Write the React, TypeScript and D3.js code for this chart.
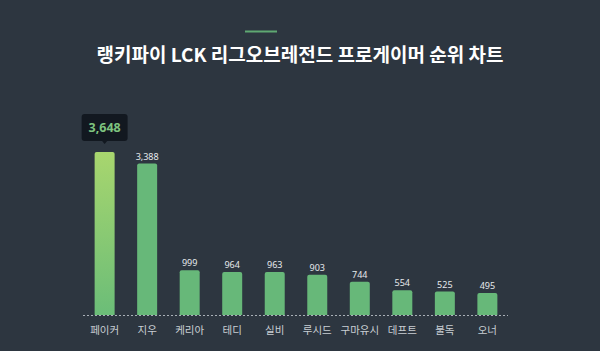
import React from "react";
import * as d3 from "d3";

const categories = ["페이커", "지우", "케리아", "테디", "실비", "루시드", "구마유시", "데프트", "불독", "오너"];
const values = [3648, 3388, 999, 964, 963, 903, 744, 554, 525, 495];
const titleText = "랭키파이 LCK 리그오브레전드 프로게이머 순위 차트";

const W = 600;
const H = 351;

export default function App() {
  const x = d3.scaleBand<string>().domain(categories).range([84, 508]).paddingInner(0.53).paddingOuter(0.25);
  const y = d3.scaleLinear().domain([0, 3648]).range([315, 152]);
  const fmt = d3.format(",");
  const bw = x.bandwidth();
  const font = "'Noto Sans', 'Noto Sans CJK KR', sans-serif";
  const firstX = (x(categories[0]) as number) + bw / 2;
  const firstTop = y(values[0]);
  return (
    <svg width={W} height={H} style={{ position: "absolute", left: 0, top: 0, display: "block" }} fontFamily={font}>
      <defs>
        <linearGradient id="g1" x1="0" y1="0" x2="0" y2="1">
          <stop offset="0%" stopColor="#a8d66e" />
          <stop offset="100%" stopColor="#6bbd78" />
        </linearGradient>
      </defs>
      <rect width={W} height={H} fill="#2d3640" />
      <rect x={245} y={30.5} width={32} height={2} fill="#5fa872" />
      <text x={300} y={62} textAnchor="middle" fill="#ffffff" fontSize={19} fontWeight={700} fontFamily="'Noto Sans CJK KR', sans-serif">
        {titleText}
      </text>
      {categories.map((c, i) => {
        const bx = x(c) as number;
        const top = y(values[i]);
        return (
          <g key={c}>
            <path
              d={`M${bx},315 V${top + 2} Q${bx},${top} ${bx + 2},${top} H${bx + bw - 2} Q${bx + bw},${top} ${bx + bw},${top + 2} V315 Z`}
              fill={i === 0 ? "url(#g1)" : "#67b879"}
            />
            {i > 0 && (
              <text x={bx + bw / 2} y={top - 4} textAnchor="middle" fill="#e6e9ec" fontSize={9}>
                {fmt(values[i])}
              </text>
            )}
            <text x={bx + bw / 2} y={334} textAnchor="middle" fill="#c9ced3" fontSize={10.5} fontFamily="'Noto Sans CJK KR', sans-serif">
              {c}
            </text>
          </g>
        );
      })}
      <line x1={83} x2={508} y1={315.5} y2={315.5} stroke="#a9b0b7" strokeWidth={1} strokeDasharray="2,2" />
      <g>
        <rect x={firstX - 23} y={firstTop - 38} width={46} height={27} rx={3} fill="#121820" />
        <path d={`M${firstX - 3},${firstTop - 11.5} L${firstX},${firstTop - 8} L${firstX + 3},${firstTop - 11.5} Z`} fill="#121820" />
        <text x={firstX} y={firstTop - 20} textAnchor="middle" fill="#7ec47f" fontSize={12.5} fontWeight={700}>
          {fmt(values[0])}
        </text>
      </g>
    </svg>
  );
}
